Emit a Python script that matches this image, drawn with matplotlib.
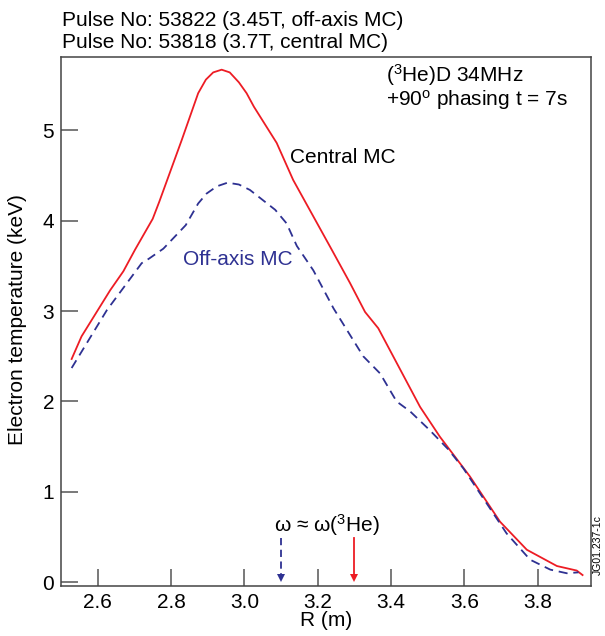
import matplotlib
matplotlib.use("Agg")
import matplotlib.pyplot as plt

plt.rcParams['font.family'] = ['Liberation Sans', 'DejaVu Sans']
plt.rcParams['mathtext.fontset'] = 'custom'
plt.rcParams['mathtext.rm'] = 'Liberation Sans'
plt.rcParams['mathtext.it'] = 'Liberation Sans:italic'

# central MC (pulse 53818), solid red
r_central = [2.529, 2.556, 2.634, 2.670, 2.702, 2.750, 2.768, 2.829, 2.874, 2.895,
             2.915, 2.938, 2.960, 2.985, 3.006, 3.026, 3.088, 3.133, 3.238, 3.288,
             3.329, 3.365, 3.479, 3.533, 3.615, 3.697, 3.770, 3.852, 3.906, 3.922]
te_central = [2.47, 2.72, 3.23, 3.44, 3.68, 4.02, 4.21, 4.89, 5.41, 5.56,
              5.64, 5.67, 5.64, 5.53, 5.41, 5.26, 4.86, 4.45, 3.68, 3.31,
              2.99, 2.81, 1.94, 1.61, 1.17, 0.67, 0.36, 0.18, 0.13, 0.08]

# off-axis MC (pulse 53822), dashed blue
r_offaxis = [2.529, 2.625, 2.720, 2.740, 2.779, 2.840, 2.874, 2.897, 2.925, 2.954,
             2.985, 3.015, 3.084, 3.115, 3.143, 3.188, 3.243, 3.324, 3.370, 3.415,
             3.452, 3.506, 3.556, 3.597, 3.661, 3.715, 3.779, 3.834, 3.879, 3.911]
te_offaxis = [2.37, 3.01, 3.53, 3.58, 3.69, 3.95, 4.19, 4.30, 4.38, 4.42,
              4.40, 4.34, 4.12, 3.97, 3.72, 3.45, 3.03, 2.50, 2.31, 2.00,
              1.89, 1.68, 1.47, 1.26, 0.87, 0.54, 0.25, 0.14, 0.10, 0.11]

xticks = [2.6, 2.8, 3.0, 3.2, 3.4, 3.6, 3.8]
yticks = [0, 1, 2, 3, 4, 5]
res_offaxis = 3.10   # omega = omega(3He) positions
res_central = 3.30

red = '#ED1C24'
blue = '#2E3192'
W, H = 605, 636
fs = 15

fig = plt.figure(figsize=(W / 100, H / 100), dpi=100)
ax = fig.add_axes([61 / W, 1 - 586 / H, 530 / W, (586 - 57.3) / H])

ax.plot(r_central, te_central, color=red, lw=1.3)
ax.plot(r_offaxis, te_offaxis, color=blue, lw=1.3, dashes=(5, 3.2))

# resonance arrows
ax.plot([res_offaxis, res_offaxis], [0.49, 0.08], color=blue, lw=1.3, dashes=(4, 2.5))
ax.plot([res_offaxis], [0.045], marker='v', color=blue, ms=6, mew=0)
ax.plot([res_central, res_central], [0.49, 0.08], color=red, lw=1.3)
ax.plot([res_central], [0.045], marker='v', color=red, ms=6, mew=0)

ax.set_xlim(2.5, 3.945)
ax.set_ylim(-0.041, 5.807)
ax.set_xticks(xticks)
ax.set_xticklabels([f'{v:.1f}' for v in xticks])
ax.set_yticks(yticks)
ax.tick_params(direction='in', length=12, width=1.1, color='#555555',
               labelsize=fs, pad=5, top=False, right=False)
for s in ax.spines.values():
    s.set_color('#444444')
    s.set_linewidth(1.1)

ax.text(3.124, 4.70, 'Central MC', fontsize=fs, va='center', ha='left')
ax.text(2.833, 3.57, 'Off-axis MC', fontsize=fs, va='center', ha='left', color=blue)
ax.text(3.386, 5.61, '($^3$He)D 34MHz', fontsize=fs, va='center', ha='left')
ax.text(3.386, 5.34, '+90$^\\mathrm{o}$ phasing t = 7s', fontsize=fs, va='center', ha='left')
ax.text(3.225, 0.63, 'ω ≈ ω($^3$He)', fontsize=fs, va='center', ha='center')

fig.text(62 / W, 1 - 20 / H, 'Pulse No: 53822 (3.45T, off-axis MC)', fontsize=fs, va='center')
fig.text(62 / W, 1 - 43 / H, 'Pulse No: 53818 (3.7T, central MC)', fontsize=fs, va='center')
fig.text(326 / W, 1 - 620 / H, 'R (m)', fontsize=fs, ha='center', va='center')
fig.text(18 / W, 1 - 320 / H, 'Electron temperature (keV)', fontsize=fs, rotation=90,
         ha='center', va='center')
fig.text(598 / W, 1 - 545 / H, 'JG01.237-1c', fontsize=7.5, rotation=90,
         ha='center', va='center')

fig.savefig('out.png', dpi=100)
